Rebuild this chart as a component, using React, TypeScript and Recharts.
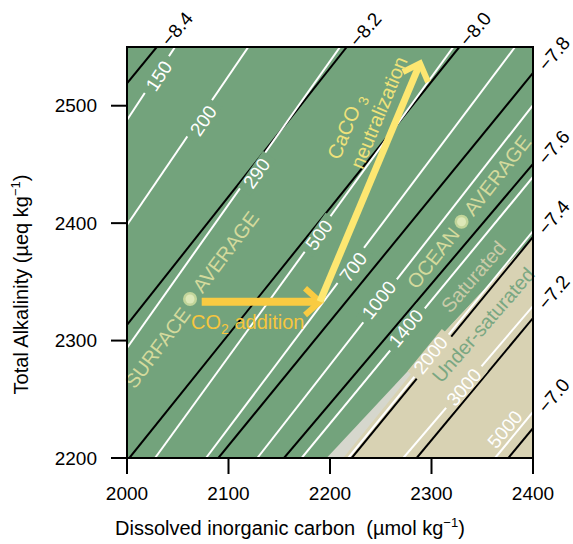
import React from "react";
import { ComposedChart, XAxis, YAxis, Line, Area, ReferenceArea, ReferenceDot } from "recharts";

const FONT = '"Liberation Sans", Arial, Helvetica, sans-serif';
const GREEN = "#73a37c";
const TAN = "#d8d2b3";
const GREY = "#d6d7cd";
const CO2_GOLD = "#f9cb42";
const CACO3_YELLOW = "#fde771";

const dicTicks = [2000, 2100, 2200, 2300, 2400];
const alkTicks = [2200, 2300, 2400, 2500];

// pH isolines (black), ends as (DIC, Alk)
const phNames = ["−8.4", "−8.2", "−8.0", "−7.8", "−7.6", "−7.4", "−7.2", "−7.0"];
const phLines = [
  [{ x: 2000, y: 2519.1 }, { x: 2029.3, y: 2550 }],
  [{ x: 2000, y: 2313.3 }, { x: 2216.5, y: 2550 }],
  [{ x: 2002.3, y: 2200 }, { x: 2327.4, y: 2550 }],
  [{ x: 2090, y: 2200 }, { x: 2400, y: 2527.9 }],
  [{ x: 2154.7, y: 2200 }, { x: 2400, y: 2450.4 }],
  [{ x: 2221.4, y: 2200 }, { x: 2400, y: 2388.2 }],
  [{ x: 2285.4, y: 2200 }, { x: 2400, y: 2319.2 }],
  [{ x: 2375.7, y: 2200 }, { x: 2400, y: 2225.5 }],
];
const phLabelAt = [
  { x: 2037.4, y: 2553.1 },
  { x: 2223, y: 2552.6 },
  { x: 2331.3, y: 2553.1 },
  { x: 2408.9, y: 2532.1 },
  { x: 2408.6, y: 2452.3 },
  { x: 2408.6, y: 2392.7 },
  { x: 2408.6, y: 2328.8 },
  { x: 2408.6, y: 2240.9 },
];

// pCO2 isolines (white)
const pco2Names = ["150", "200", "290", "500", "700", "1000", "1400", "2000", "3000", "5000"];
const pco2Lines = [
  [{ x: 2000, y: 2487.8 }, { x: 2047.3, y: 2550 }],
  [{ x: 2000, y: 2398.4 }, { x: 2119.5, y: 2550 }],
  [{ x: 2000, y: 2293.7 }, { x: 2209.9, y: 2550 }],
  [{ x: 2027.6, y: 2200 }, { x: 2321.5, y: 2550 }],
  [{ x: 2077.8, y: 2200 }, { x: 2382.3, y: 2550 }],
  [{ x: 2128.4, y: 2200 }, { x: 2400, y: 2500.6 }],
  [{ x: 2172.1, y: 2200 }, { x: 2400, y: 2439.3 }],
  [{ x: 2218, y: 2200 }, { x: 2400, y: 2393.3 }],
  [{ x: 2272.2, y: 2200 }, { x: 2400, y: 2329.4 }],
  [{ x: 2362.6, y: 2200 }, { x: 2400, y: 2239.2 }],
];
const pco2LabelAt = [
  { x: 2031.5, y: 2525.3 },
  { x: 2075.2, y: 2487.2 },
  { x: 2127.8, y: 2442.4 },
  { x: 2189.2, y: 2389.9 },
  { x: 2223, y: 2362.4 },
  { x: 2248.3, y: 2334.5 },
  { x: 2274.9, y: 2310.5 },
  { x: 2299.2, y: 2287.7 },
  { x: 2332, y: 2260.2 },
  { x: 2372.4, y: 2224.4 },
];
const pco2LabelTilt = [-56.7, -55.7, -54.7, -54, -53, -52, -50.5, -51, -49.5, -49.7];
const pco2LabelBg = [GREEN, GREEN, GREEN, GREEN, GREEN, GREEN, GREEN, TAN, TAN, null];

// calcite saturation boundary
const saturatedEdge = [{ x: 2196.7, y: 2200 }, { x: 2400, y: 2388 }];
const undersatEdge = [{ x: 2213, y: 2200 }, { x: 2315, y: 2309.3 }, { x: 2400, y: 2388 }];

const surfaceMean = { x: 2062.1, y: 2335.4 };
const oceanMean = { x: 2329.6, y: 2401.2 };

// arrows
const co2Shaft = [{ x: 2073.6, y: 2333.1 }, { x: 2187, y: 2333.1 }];
const co2Head = [{ x: 2175.4, y: 2344.5 }, { x: 2190.1, y: 2333.1 }, { x: 2175.4, y: 2321.8 }];
const caco3Shaft = [{ x: 2190.1, y: 2333.1 }, { x: 2287.5, y: 2533.6 }];
const caco3Head = [{ x: 2271.9, y: 2528.7 }, { x: 2288.7, y: 2536.1 }, { x: 2296.6, y: 2520.2 }];

function TiltText({ cx = 0, cy = 0, angle, text, fill, size, anchor = "middle", bg }: any) {
  const w = text.length * size * 0.56 + 12;
  const h = size * 0.82;
  const rx = anchor === "middle" ? cx - w / 2 : anchor === "start" ? cx : cx - w;
  return (
    <g transform={`rotate(${angle} ${cx} ${cy})`}>
      {bg ? <rect x={rx} y={cy - h / 2} width={w} height={h} fill={bg} /> : null}
      <text x={cx} y={cy} textAnchor={anchor} dominantBaseline="central" fill={fill} fontSize={size} fontFamily={FONT}>
        {text}
      </text>
    </g>
  );
}

function MeanDot({ cx = 0, cy = 0 }: any) {
  return (
    <g>
      <circle cx={cx} cy={cy} r={7} fill="#c2d59a" />
      <circle cx={cx} cy={cy} r={4.5} fill="#dde8b8" />
    </g>
  );
}

function CaCO3Label({ cx = 0, cy = 0 }: any) {
  return (
    <g transform={`rotate(-67.5 ${cx} ${cy})`} fill="#efe27a" fontSize={20} fontFamily={FONT}>
      <text x={cx} y={cy} dominantBaseline="central">
        CaCO<tspan dx={5} dy={6} fontSize={14}>3</tspan>
      </text>
      <text x={cx} y={cy + 25} dominantBaseline="central">neutralization</text>
    </g>
  );
}

function Co2Label({ cx = 0, cy = 0 }: any) {
  return (
    <text x={cx} y={cy} fill="#f7c63e" fontSize={20} fontFamily={FONT}>
      CO<tspan dy={5} fontSize={14}>2</tspan>
      <tspan dy={-5}> addition</tspan>
    </text>
  );
}

const xTitle = (p: any) => {
  const vb = p && p.viewBox ? p.viewBox : { x: 127, y: 458 };
  return (
    <text x={vb.x - 12} y={vb.y + 77} fontSize={20} fontFamily={FONT} fill="#000">
      Dissolved inorganic carbon{"\u00a0 "}(µmol kg
      <tspan dy={-8} fontSize={13}>−1</tspan>
      <tspan dy={8}>)</tspan>
    </text>
  );
};

const yTitle = (p: any) => {
  const vb = p && p.viewBox ? p.viewBox : { x: 67, y: 47 };
  const x = vb.x - 39.5;
  const y = vb.y + 237.5;
  return (
    <text x={x} y={y} transform={`rotate(-90 ${x} ${y})`} textAnchor="middle" fontSize={20} fontFamily={FONT} fill="#000">
      Total Alkalinity (µeq kg
      <tspan dy={-8} fontSize={13}>−1</tspan>
      <tspan dy={8}>)</tspan>
    </text>
  );
};

const note = (x: number, y: number, shape: any, key: string, z = 800) => (
  <ReferenceDot key={key} x={x} y={y} r={1} ifOverflow="visible" zIndex={z} shape={shape} />
);

export default function App() {
  return (
    <div style={{ position: "absolute", left: 0, top: 0, width: 573, height: 544, background: "#fff" }}>
      <ComposedChart width={573} height={544} margin={{ top: 47, right: 40, bottom: 36, left: 67 }}>
        <XAxis
          type="number"
          dataKey="x"
          domain={[2000, 2400]}
          ticks={dicTicks}
          interval={0}
          allowDataOverflow
          height={50}
          axisLine={false}
          tickSize={16}
          tickMargin={13}
          tickLine={{ stroke: "#000", strokeWidth: 2 }}
          tick={{ fill: "#000", fontSize: 19, fontFamily: FONT }}
          label={xTitle}
        />
        <YAxis
          type="number"
          domain={[2200, 2550]}
          ticks={alkTicks}
          interval={0}
          allowDataOverflow
          width={60}
          axisLine={false}
          tickSize={16}
          tickMargin={14}
          tickLine={{ stroke: "#000", strokeWidth: 2 }}
          tick={{ fill: "#000", fontSize: 19, fontFamily: FONT }}
          label={yTitle}
        />
        <ReferenceArea x1={2000} x2={2400} y1={2200} y2={2550} fill={GREEN} fillOpacity={1} stroke="none" zIndex={-50} />
        <Area data={saturatedEdge} dataKey="y" type="linear" baseValue="dataMin" fill={GREY} fillOpacity={1} stroke="none" dot={false} activeDot={false} isAnimationActive={false} zIndex={100} />
        <Area data={undersatEdge} dataKey="y" type="linear" baseValue="dataMin" fill={TAN} fillOpacity={1} stroke="none" dot={false} activeDot={false} isAnimationActive={false} zIndex={100} />
        {phLines.map((pts, i) => (
          <Line key={"ph" + i} data={pts} dataKey="y" type="linear" stroke="#000" strokeWidth={2} dot={false} activeDot={false} isAnimationActive={false} zIndex={400} />
        ))}
        {pco2Lines.map((pts, i) => (
          <Line key={"pc" + i} data={pts} dataKey="y" type="linear" stroke="#fff" strokeWidth={2} dot={false} activeDot={false} isAnimationActive={false} zIndex={400} />
        ))}
        {pco2LabelAt.map((p, i) =>
          note(p.x, p.y, (s: any) => (
            <TiltText cx={s.cx} cy={s.cy} angle={pco2LabelTilt[i]} text={pco2Names[i]} fill="#fff" size={19} bg={pco2LabelBg[i]} />
          ), "pcl" + i, 600)
        )}
        {phLabelAt.map((p, i) =>
          note(p.x, p.y, (s: any) => (
            <TiltText cx={s.cx} cy={s.cy} angle={-50} text={phNames[i]} fill="#000" size={19} anchor="start" />
          ), "phl" + i, 600)
        )}
        <Line data={co2Shaft} dataKey="y" type="linear" stroke={CO2_GOLD} strokeWidth={8} dot={false} activeDot={false} isAnimationActive={false} zIndex={700} />
        <Line data={co2Head} dataKey="y" type="linear" stroke={CO2_GOLD} strokeWidth={6} strokeLinejoin="miter" dot={false} activeDot={false} isAnimationActive={false} zIndex={700} />
        <Line data={caco3Shaft} dataKey="y" type="linear" stroke={CACO3_YELLOW} strokeWidth={7} dot={false} activeDot={false} isAnimationActive={false} zIndex={710} />
        <Line data={caco3Head} dataKey="y" type="linear" stroke={CACO3_YELLOW} strokeWidth={6} strokeLinejoin="miter" dot={false} activeDot={false} isAnimationActive={false} zIndex={710} />
        {note(surfaceMean.x, surfaceMean.y, (s: any) => <MeanDot cx={s.cx} cy={s.cy} />, "sdot")}
        {note(oceanMean.x, oceanMean.y, (s: any) => <MeanDot cx={s.cx} cy={s.cy} />, "odot")}
        {note(2058.1, 2326, (s: any) => <TiltText cx={s.cx} cy={s.cy} angle={-53} text="SURFACE" fill="#d4da9c" size={20} anchor="end" />, "t1")}
        {note(2069, 2343.1, (s: any) => <TiltText cx={s.cx} cy={s.cy} angle={-53} text="AVERAGE" fill="#d4da9c" size={20} anchor="start" />, "t2")}
        {note(2323.2, 2394.2, (s: any) => <TiltText cx={s.cx} cy={s.cy} angle={-52} text="OCEAN" fill="#d4da9c" size={20} anchor="end" />, "t3")}
        {note(2336, 2408.6, (s: any) => <TiltText cx={s.cx} cy={s.cy} angle={-52} text="AVERAGE" fill="#d4da9c" size={20} anchor="start" />, "t4")}
        {note(2341.2, 2354.4, (s: any) => <TiltText cx={s.cx} cy={s.cy} angle={-49} text="Saturated" fill="#c9cba8" size={20} />, "t5")}
        {note(2351, 2313.3, (s: any) => <TiltText cx={s.cx} cy={s.cy} angle={-49} text="Under-saturated" fill="#7aa782" size={20} />, "t6")}
        {note(2203, 2455.5, (s: any) => <CaCO3Label cx={s.cx} cy={s.cy} />, "t7")}
        {note(2063.1, 2309.9, (s: any) => <Co2Label cx={s.cx} cy={s.cy} />, "t8")}
        <ReferenceArea x1={2000} x2={2400} y1={2200} y2={2550} fill="none" stroke="#000" strokeWidth={2} zIndex={900} />
      </ComposedChart>
    </div>
  );
}
